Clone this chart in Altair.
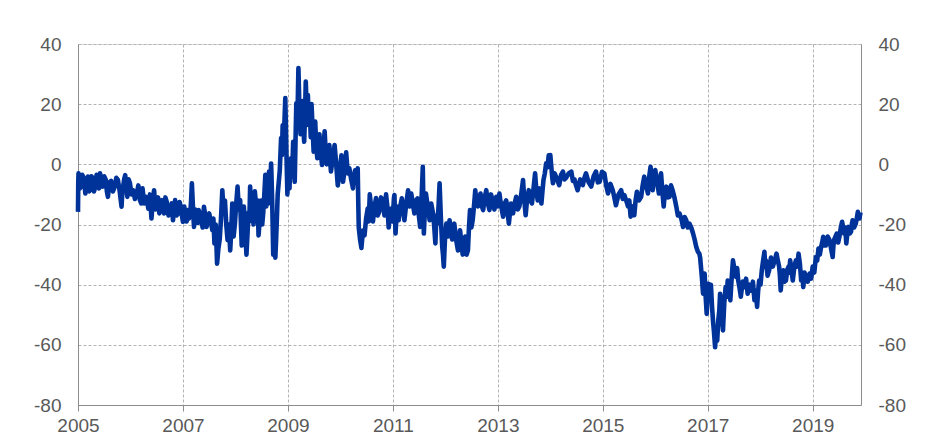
import altair as alt
import pandas as pd

# ---- data: (decimal year, value) ----
seg_2005_2008 = [
    (2005.00, -15.8), (2005.005, -6), (2005.01, -3), (2005.035, -8), (2005.06, -7.4), (2005.08, -3.5),
    (2005.10, -4.1), (2005.12, -6), (2005.14, -9.7), (2005.165, -5), (2005.19, -4.1), (2005.21, -9),
    (2005.23, -8.6), (2005.255, -4), (2005.28, -4.5), (2005.305, -9), (2005.33, -7.4), (2005.355, -3.5),
    (2005.38, -4.7), (2005.40, -8), (2005.42, -3), (2005.445, -6), (2005.47, -7.4), (2005.50, -4),
    (2005.53, -5.2), (2005.55, -9), (2005.57, -10.8), (2005.60, -6), (2005.63, -5.5), (2005.665, -9),
    (2005.70, -7.4), (2005.73, -4.5), (2005.76, -5.2), (2005.795, -9), (2005.83, -14.1), (2005.845, -9),
    (2005.86, -7.4), (2005.88, -5), (2005.90, -3.6), (2005.92, -8), (2005.94, -10.8), (2005.965, -5),
    (2005.99, -6.3), (2006.02, -10), (2006.05, -8.6), (2006.085, -11.5), (2006.12, -9.7), (2006.15, -7),
    (2006.18, -11.9), (2006.205, -13), (2006.23, -8.0), (2006.26, -13), (2006.29, -10.8), (2006.315, -12),
    (2006.34, -14.7), (2006.37, -10), (2006.40, -18), (2006.425, -12), (2006.45, -8.6), (2006.475, -15),
    (2006.50, -13), (2006.525, -11), (2006.55, -16.3), (2006.575, -14), (2006.60, -11.9), (2006.62, -14),
    (2006.64, -16.3), (2006.665, -11), (2006.69, -12.4), (2006.725, -17), (2006.76, -15.2), (2006.785, -13),
    (2006.81, -18.6), (2006.83, -15), (2006.85, -11.9), (2006.88, -17), (2006.91, -16.3), (2006.935, -12.5),
    (2006.96, -14.1), (2006.98, -17), (2007.00, -19.1), (2007.025, -14), (2007.05, -17.4), (2007.07, -19),
    (2007.09, -15.2), (2007.115, -18), (2007.14, -16.3), (2007.155, -12), (2007.17, -6.3), (2007.19, -14),
    (2007.21, -20.8), (2007.235, -15), (2007.26, -17.4), (2007.28, -19.5), (2007.30, -15.2), (2007.325, -17),
    (2007.35, -18.6), (2007.375, -21), (2007.40, -14.1), (2007.425, -17), (2007.45, -20.8), (2007.475, -18),
    (2007.50, -16.3), (2007.53, -19), (2007.56, -21.9), (2007.58, -18), (2007.60, -26.3), (2007.625, -20),
    (2007.65, -33), (2007.675, -28), (2007.70, -25), (2007.725, -18), (2007.75, -8.6), (2007.775, -16),
    (2007.80, -12), (2007.825, -20), (2007.85, -25.2), (2007.875, -20), (2007.90, -28.6), (2007.92, -22),
    (2007.94, -13), (2007.965, -24), (2007.99, -19.7), (2008.015, -13), (2008.04, -7.4), (2008.065, -15),
    (2008.09, -11.9),
]

seg_2008_2011 = [
    (2008.105, -20), (2008.12, -27), (2008.14, -19), (2008.16, -14), (2008.185, -22), (2008.21, -30),
    (2008.23, -23), (2008.25, -16), (2008.265, -19), (2008.28, -7.4), (2008.30, -15), (2008.32, -12),
    (2008.345, -20), (2008.37, -9), (2008.39, -13), (2008.41, -17), (2008.425, -12), (2008.44, -23.6),
    (2008.465, -18), (2008.49, -12), (2008.51, -20), (2008.53, -16), (2008.55, -10), (2008.57, -3.5),
    (2008.59, -14), (2008.61, -8), (2008.625, -13), (2008.64, -2.4), (2008.66, -9), (2008.68, 0.3),
    (2008.70, -12), (2008.72, -30), (2008.74, -22), (2008.76, -31), (2008.775, -25), (2008.79, -18),
    (2008.805, -10), (2008.82, -7), (2008.845, -2), (2008.87, 8.7), (2008.885, 3), (2008.90, 13),
    (2008.925, 10), (2008.95, 22), (2008.97, 5), (2008.99, -10), (2009.01, 0), (2009.03, -8),
    (2009.045, -1), (2009.06, 2), (2009.08, -4), (2009.10, 7.5), (2009.115, 0), (2009.13, -5.8),
    (2009.145, 8), (2009.16, 20.3), (2009.18, 14), (2009.20, 32), (2009.22, 18), (2009.24, 10),
    (2009.26, 15), (2009.28, 21), (2009.295, 12), (2009.31, 7.5), (2009.325, 16), (2009.34, 27.5),
    (2009.36, 17), (2009.38, 23), (2009.40, 13), (2009.42, 16.4), (2009.435, 9), (2009.45, 20),
    (2009.47, 12), (2009.49, 4.2), (2009.505, 8), (2009.52, 14.2), (2009.54, 6), (2009.56, 2),
    (2009.58, 5), (2009.60, 10), (2009.625, 4), (2009.65, -0.2), (2009.675, 5), (2009.70, 11),
    (2009.72, 4), (2009.74, 0), (2009.765, 4), (2009.79, 6.4), (2009.805, 1), (2009.82, -2.4),
    (2009.855, 2), (2009.89, 6.4), (2009.92, 0), (2009.95, -7), (2009.985, -2), (2010.02, 3),
    (2010.035, -1), (2010.05, -5.8), (2010.08, -2), (2010.11, 4), (2010.14, -3), (2010.17, -1.3),
    (2010.205, -5), (2010.24, -8), (2010.26, -4), (2010.28, -2), (2010.305, -6), (2010.33, -1.3),
    (2010.34, -12), (2010.35, -21), (2010.375, -25), (2010.40, -27.8), (2010.43, -22), (2010.46, -23.6),
    (2010.49, -18), (2010.52, -14.7), (2010.54, -19), (2010.56, -10), (2010.59, -15), (2010.62, -19),
    (2010.65, -14), (2010.68, -11.2), (2010.71, -17), (2010.74, -15.8), (2010.775, -11), (2010.81, -12.4),
    (2010.84, -17), (2010.87, -10), (2010.895, -14), (2010.92, -21), (2010.945, -16), (2010.97, -14.7),
    (2010.995, -19),
]

seg_2011_2014 = [
    (2011.02, -11.2), (2011.03, -10.2), (2011.04, -17), (2011.05, -23), (2011.08, -14), (2011.11, -18.6),
    (2011.14, -14), (2011.17, -11.3), (2011.195, -15), (2011.22, -18.6), (2011.255, -13), (2011.29, -8.6),
    (2011.32, -14), (2011.35, -9.7), (2011.38, -13), (2011.41, -16.3), (2011.44, -12), (2011.47, -11.3),
    (2011.495, -17), (2011.52, -20.8), (2011.545, -12), (2011.57, -0.8), (2011.58, -12), (2011.59, -23),
    (2011.61, -15), (2011.63, -9.7), (2011.665, -14), (2011.70, -18.6), (2011.73, -13), (2011.76, -15.8),
    (2011.785, -20), (2011.81, -26.3), (2011.83, -17), (2011.85, -19.7), (2011.87, -14), (2011.89, -6.3),
    (2011.915, -18), (2011.94, -27.4), (2011.955, -30), (2011.97, -34), (2011.995, -24), (2012.02, -19.7),
    (2012.05, -24), (2012.08, -18.6), (2012.105, -22), (2012.13, -25), (2012.15, -21), (2012.17, -19.7),
    (2012.205, -25), (2012.24, -28.6), (2012.26, -24), (2012.28, -21.9), (2012.305, -26), (2012.33, -30),
    (2012.355, -25), (2012.38, -24), (2012.405, -30), (2012.43, -28.6), (2012.45, -21), (2012.47, -15.2),
    (2012.495, -21), (2012.52, -18.6), (2012.545, -14), (2012.57, -8.6), (2012.595, -13), (2012.62, -14),
    (2012.645, -11), (2012.67, -9.7), (2012.695, -14), (2012.72, -15.2), (2012.75, -11), (2012.78, -8.6),
    (2012.81, -13), (2012.84, -15.2), (2012.87, -10), (2012.90, -12), (2012.935, -15), (2012.97, -10.8),
    (2013.00, -14), (2013.03, -9.7), (2013.065, -14), (2013.10, -17.4), (2013.13, -13), (2013.16, -12),
    (2013.185, -16), (2013.21, -19.7), (2013.25, -13), (2013.29, -16.3), (2013.32, -13), (2013.35, -10.8),
    (2013.38, -15), (2013.41, -14), (2013.445, -10), (2013.48, -5.2), (2013.505, -12), (2013.53, -16.9),
    (2013.56, -11), (2013.59, -8.6), (2013.62, -12), (2013.65, -13), (2013.68, -8), (2013.71, -3),
    (2013.735, -9), (2013.76, -12), (2013.795, -8), (2013.83, -13), (2013.85, -9), (2013.87, -5.2),
    (2013.895, -3), (2013.92, 0.3), (2013.945, -1), (2013.97, 3),
]

seg_2014_2017 = [
    (2013.985, 0), (2014.00, 3.1), (2014.01, 1), (2014.02, -1), (2014.035, -4), (2014.05, -6.3),
    (2014.08, -3), (2014.11, -4.1), (2014.14, -5.5), (2014.17, -6.9), (2014.205, -3.5), (2014.24, -2.4),
    (2014.27, -5), (2014.30, -4.5), (2014.35, -3), (2014.40, -2.4), (2014.43, -5.5), (2014.46, -5),
    (2014.49, -7), (2014.52, -8.6), (2014.57, -5), (2014.62, -6.9), (2014.65, -4.5), (2014.68, -3),
    (2014.73, -6), (2014.78, -7.4), (2014.825, -4), (2014.87, -2.4), (2014.905, -6), (2014.94, -5.8),
    (2014.985, -2.5), (2015.03, -3), (2015.065, -7), (2015.10, -9.7), (2015.145, -6.5), (2015.19, -8.6),
    (2015.22, -11), (2015.25, -13.6), (2015.30, -10), (2015.35, -8.6), (2015.38, -11.5), (2015.41, -10.2),
    (2015.445, -12), (2015.48, -14), (2015.505, -12), (2015.53, -17.4), (2015.565, -14), (2015.60, -16.9),
    (2015.625, -12), (2015.65, -9.1), (2015.69, -12), (2015.73, -10.8), (2015.76, -7), (2015.79, -4.1),
    (2015.825, -7), (2015.86, -9.7), (2015.885, -4), (2015.91, -0.8), (2015.93, -5), (2015.95, -8.6),
    (2015.975, -4), (2016.00, -1.9), (2016.035, -6), (2016.07, -9.7), (2016.09, -5), (2016.11, -3),
    (2016.135, -9), (2016.16, -14), (2016.185, -9), (2016.21, -7.4), (2016.24, -11), (2016.27, -10.8),
    (2016.30, -7), (2016.33, -8.6), (2016.365, -11), (2016.40, -14), (2016.43, -17), (2016.46, -16.3),
    (2016.495, -18), (2016.53, -20.8), (2016.56, -17.5), (2016.59, -18.6), (2016.62, -21), (2016.65, -19.7),
    (2016.685, -21), (2016.72, -23), (2016.75, -25), (2016.78, -27.4), (2016.81, -29), (2016.84, -29.7),
    (2016.855, -31), (2016.87, -34), (2016.89, -38), (2016.91, -43), (2016.925, -39), (2016.94, -36.3),
    (2016.96, -44), (2016.98, -49.7), (2016.995, -43), (2017.01, -39.7), (2017.035, -44),
]

seg_2017_2020 = [
    (2017.06, -40), (2017.08, -47), (2017.10, -52), (2017.12, -56), (2017.14, -60.8), (2017.16, -55),
    (2017.18, -58.6), (2017.20, -52), (2017.22, -48.6), (2017.235, -43), (2017.25, -45.2), (2017.27, -50),
    (2017.29, -55.2), (2017.315, -46), (2017.34, -40.8), (2017.36, -44), (2017.38, -38.6), (2017.405, -42),
    (2017.43, -45.2), (2017.455, -38), (2017.48, -31.9), (2017.51, -35), (2017.54, -37.4), (2017.56, -34.5),
    (2017.58, -38.6), (2017.605, -41), (2017.63, -44), (2017.665, -39), (2017.70, -40.8), (2017.73, -38),
    (2017.76, -43), (2017.795, -40), (2017.83, -42), (2017.86, -39), (2017.89, -45.2), (2017.915, -42),
    (2017.94, -47.4), (2017.96, -42), (2017.98, -38.6), (2018.005, -40), (2018.03, -35.2), (2018.055, -32),
    (2018.08, -29.1), (2018.095, -34), (2018.11, -32), (2018.14, -37), (2018.17, -35.2), (2018.205, -31),
    (2018.24, -34), (2018.275, -32), (2018.31, -29.7), (2018.335, -32), (2018.36, -34), (2018.375, -37),
    (2018.39, -41.9), (2018.415, -37), (2018.44, -35.2), (2018.465, -39), (2018.49, -38.6), (2018.515, -35),
    (2018.54, -34), (2018.555, -36), (2018.57, -31.9), (2018.595, -35), (2018.62, -38.6), (2018.65, -34),
    (2018.68, -31.9), (2018.705, -34), (2018.73, -29.7), (2018.755, -33), (2018.78, -38.6), (2018.80, -36),
    (2018.82, -40.8), (2018.845, -36), (2018.87, -37.4), (2018.905, -39), (2018.94, -36.3), (2018.97, -38),
    (2019.00, -34), (2019.03, -36), (2019.06, -30.8), (2019.085, -32), (2019.11, -28), (2019.135, -30),
    (2019.16, -27.4), (2019.18, -26), (2019.20, -24.1), (2019.225, -27), (2019.25, -27), (2019.285, -24),
    (2019.32, -25.2), (2019.35, -28), (2019.38, -30.8), (2019.395, -27), (2019.41, -25), (2019.435, -24),
    (2019.46, -23), (2019.485, -26), (2019.51, -24), (2019.535, -21), (2019.56, -19.1), (2019.58, -21),
    (2019.60, -23), (2019.62, -21), (2019.64, -26.3), (2019.66, -23), (2019.68, -20.8), (2019.705, -23),
    (2019.73, -22.4), (2019.745, -20), (2019.76, -18.6), (2019.79, -21), (2019.82, -19.7), (2019.84, -18),
    (2019.86, -15.8), (2019.875, -17), (2019.89, -18), (2019.91, -16),
]

x_ticks = [2005, 2007, 2009, 2011, 2013, 2015, 2017, 2019]
y_ticks = [-80, -60, -40, -20, 0, 20, 40]

rows = seg_2005_2008 + seg_2008_2011 + seg_2011_2014 + seg_2014_2017 + seg_2017_2020
df = pd.DataFrame(rows, columns=["t", "v"])

FONT = "Liberation Sans"
LABEL_COLOR = "#595959"
AXIS_COLOR = "#8c8c8c"
GRID_COLOR = "#b3b3b3"
LINE_COLOR = "#003399"

x_scale = alt.Scale(domain=[2005, 2019.92], nice=False, zero=False)
y_scale = alt.Scale(domain=[-80, 40], nice=False, zero=False)

x_axis = alt.Axis(
    values=x_ticks, format="d", title=None, grid=True,
    gridColor=GRID_COLOR, gridDash=[3, 2], gridWidth=1,
    domainColor=AXIS_COLOR, tickColor=AXIS_COLOR, tickSize=6,
    labelPadding=5, labelFontSize=19, labelColor=LABEL_COLOR, labelFont=FONT,
    labelFlush=False,
)


def y_axis(orient, grid):
    return alt.Axis(
        orient=orient, values=y_ticks, title=None, grid=grid,
        gridColor=GRID_COLOR, gridDash=[3, 2], gridWidth=1,
        domainColor=AXIS_COLOR, ticks=False, labelPadding=17,
        labelFontSize=19, labelColor=LABEL_COLOR, labelFont=FONT,
        labelExpr="'' + datum.value",
    )


line = alt.Chart(df).mark_line(color=LINE_COLOR, strokeWidth=4.6, strokeJoin="round").encode(
    x=alt.X("t:Q", scale=x_scale, axis=x_axis),
    y=alt.Y("v:Q", scale=y_scale, axis=y_axis("left", True)),
)

right = alt.Chart(df).mark_line(opacity=0).encode(
    x=alt.X("t:Q", scale=x_scale, axis=x_axis),
    y=alt.Y("v:Q", scale=y_scale, axis=y_axis("right", False)),
)

chart = (
    alt.layer(line, right)
    .resolve_scale(y="independent")
    .properties(
        width=783, height=361,
        autosize=alt.AutoSizeParams(type="none"),
        padding={"left": 70, "top": 36, "right": 76, "bottom": 30},
    )
    .configure_view(stroke=None)
    .configure(background="white")
)

chart.save("out.html", embed_options={"renderer": "svg", "actions": False})
